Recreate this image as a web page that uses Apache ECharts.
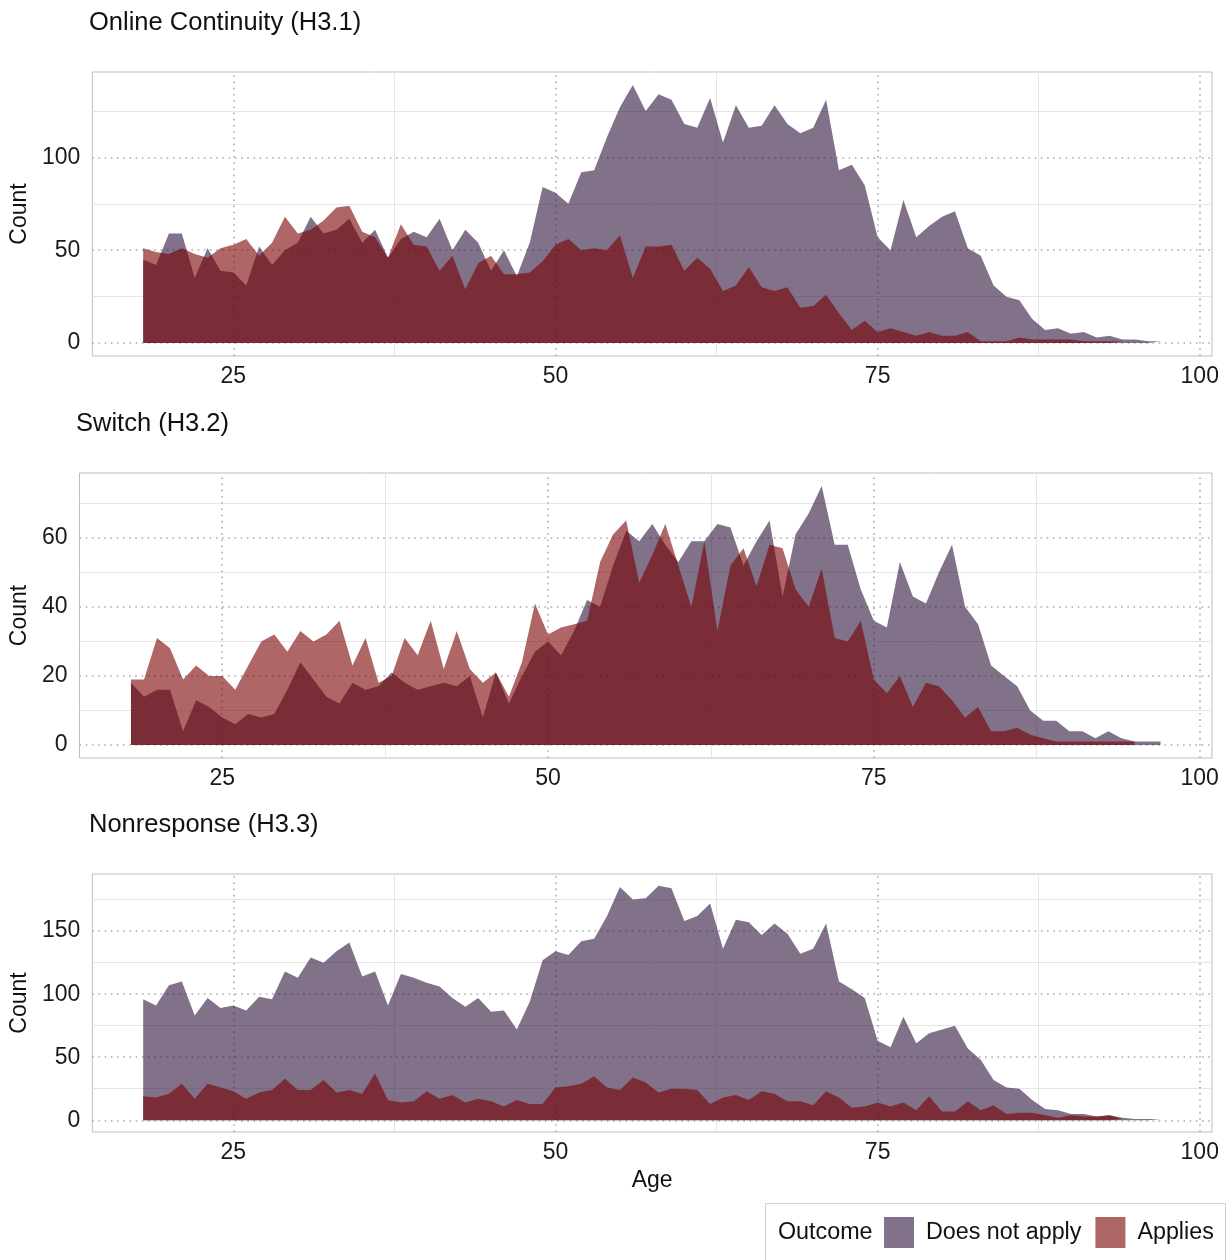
<!DOCTYPE html>
<html><head><meta charset="utf-8">
<script src="https://cdn.jsdelivr.net/npm/echarts@6/dist/echarts.min.js"></script>
<style>html,body{margin:0;padding:0;background:#fff}#chart{width:1229px;height:1260px}</style>
</head><body><div id="chart"></div>
<script>
// ---------- DATA ----------
const AGES = [18,19,20,21,22,23,24,25,26,27,28,29,30,31,32,33,34,35,36,37,38,39,40,41,42,43,44,45,46,47,48,49,50,51,52,53,54,55,56,57,58,59,60,61,62,63,64,65,66,67,68,69,70,71,72,73,74,75,76,77,78,79,80,81,82,83,84,85,86,87,88,89,90,91,92,93,94,95,96,97];
const PANEL_TITLES = ['Online Continuity (H3.1)', 'Switch (H3.2)', 'Nonresponse (H3.3)'];
const SERIES_NAMES = ['Does not apply', 'Applies'];
const LEGEND_TITLE = 'Outcome';
const X_NAME = 'Age';
const Y_NAME = 'Count';

const ONLINE_NOT_APPLY = [45,42,59,59,35,51,39,38,31,52,42,50,54,68,59,61,67,54,61,46,56,60,57,67,50,61,54,39,50,36,54,84,81,75,92,93,111,127,139,125,134,131,118,116,132,108,128,116,117,128,118,113,116,131,93,96,85,57,50,77,57,63,68,71,51,47,31,25,23,13,7,8,5,6,3,4,2,2,1,1];
const ONLINE_APPLIES = [51,49,48,51,48,46,51,53,56,47,54,68,59,61,66,73,74,60,57,46,64,53,52,39,47,29,43,47,37,37,38,44,53,56,50,51,50,58,35,52,52,53,39,46,40,28,31,41,30,28,30,19,20,26,16,7,12,6,8,6,4,6,4,4,6,1,1,1,3,2,2,2,2,1,1,1,1];

const SWITCH_NOT_APPLY = [18,14,16,16,4,13,11,8,6,9,8,9,16,24,19,14,12,18,16,17,21,18,16,17,18,17,20,8,21,12,20,27,30,26,33,42,40,52,62,59,64,58,53,59,59,64,63,52,59,65,43,61,67,75,58,58,45,36,34,53,43,41,50,58,40,35,23,20,17,10,7,7,4,4,2,4,2,1,1,1];
const SWITCH_APPLIES = [19,19,31,28,19,23,20,20,16,23,30,32,27,33,30,32,36,23,31,18,20,31,26,36,22,33,22,18,21,14,24,41,32,34,35,36,53,61,65,47,55,64,52,40,59,33,52,57,46,58,57,45,40,51,31,30,36,19,15,20,11,18,17,13,8,11,4,4,5,3,2,1,1,1,1,1,1,1];

const NONRESP_NOT_APPLY = [96,91,107,110,83,97,89,91,87,98,96,118,113,129,125,134,141,114,118,91,116,113,109,106,97,90,97,86,87,72,94,127,134,131,142,144,162,185,175,176,186,184,158,162,172,136,159,157,147,156,148,132,136,156,110,104,97,63,58,82,61,69,72,75,57,48,32,26,25,16,9,8,5,5,3,4,2,1,1,1];
const NONRESP_APPLIES = [19,18,21,29,17,29,26,23,17,22,24,33,24,24,32,22,24,21,37,16,14,15,23,17,20,14,17,15,11,16,13,13,26,27,29,35,26,24,34,30,22,25,25,24,13,18,20,16,23,21,15,15,12,23,18,10,11,14,11,14,8,19,7,7,15,8,12,5,6,6,4,2,4,3,3,4,1];

const X_TICKS = [25, 50, 75, 100];
const X_MINOR = [37.5, 62.5, 87.5];
const Y_TICKS = [[0, 50, 100], [0, 20, 40, 60], [0, 50, 100, 150]];
const Y_MINOR = [[25, 75, 125], [10, 30, 50, 70], [25, 75, 125, 175]];

// ---------- LAYOUT / STYLE ----------
const FONT = '"Liberation Sans", Arial, Helvetica, sans-serif';
const PANELS = [
  { left: 89, top: 72,  width: 1123, height: 284, titleTop: 10 },
  { left: 76, top: 473, width: 1136, height: 285, titleTop: 411 },
  { left: 89, top: 874, width: 1123, height: 258, titleTop: 812 }
];
const PANEL_DATA = [
  [ONLINE_NOT_APPLY, ONLINE_APPLIES],
  [SWITCH_NOT_APPLY, SWITCH_APPLIES],
  [NONRESP_NOT_APPLY, NONRESP_APPLIES]
];
const AREA_COLORS = ['rgba(45,20,60,0.6)', 'rgba(120,0,0,0.6)'];
const LEGEND_COLORS = ['#81718b', '#ae6664'];

const xMin = Math.min(...AGES), xMax = Math.max(...AGES);
const xPad = (xMax - xMin) * 0.05;

const grids = [], xAxes = [], yAxes = [], series = [], titles = [];

PANELS.forEach((p, i) => {
  const vals = PANEL_DATA[i];
  const yMaxData = Math.max(...vals[0], ...vals[1]);
  const yPad = yMaxData * 0.05;
  grids.push({ left: p.left, top: p.top, width: p.width, height: p.height,
    show: true, borderColor: '#bdbdbd', borderWidth: 1, backgroundColor: '#fff', containLabel: false });
  titles.push({ text: PANEL_TITLES[i], left: p.left, top: p.titleTop, padding: 0,
    textStyle: { fontSize: 25.5, fontWeight: 'normal', color: '#111', fontFamily: FONT } });
  xAxes.push({
    type: 'value', gridIndex: i, min: xMin - xPad, max: xMax + xPad,
    axisLine: { show: false }, axisTick: { show: false }, splitLine: { show: false },
    axisLabel: { customValues: X_TICKS, fontSize: 23, color: '#1a1a1a', fontFamily: FONT, margin: 9 },
    name: i === 2 ? X_NAME : '', nameLocation: 'middle', nameGap: 37,
    nameTextStyle: { fontSize: 23, color: '#111', fontFamily: FONT }
  });
  yAxes.push({
    type: 'value', gridIndex: i, min: -yPad, max: yMaxData + yPad,
    axisLine: { show: false }, axisTick: { show: false }, splitLine: { show: false },
    axisLabel: { customValues: Y_TICKS[i], fontSize: 23, color: '#1a1a1a', fontFamily: FONT, margin: 12 },
    name: Y_NAME, nameLocation: 'middle', nameGap: p.left - 40,
    nameTextStyle: { fontSize: 23, color: '#111', fontFamily: FONT }
  });
  // grid lines (drawn beneath the areas)
  const ml = [];
  Y_MINOR[i].forEach(v => ml.push({ yAxis: v, lineStyle: { color: '#e6e6e6', width: 1, type: 'solid' } }));
  X_MINOR.forEach(v => ml.push({ xAxis: v, lineStyle: { color: '#e6e6e6', width: 1, type: 'solid' } }));
  Y_TICKS[i].forEach(v => ml.push({ yAxis: v, lineStyle: { color: '#ababab', width: 1.6, type: [1.6, 4.6] } }));
  X_TICKS.forEach(v => ml.push({ xAxis: v, lineStyle: { color: '#ababab', width: 1.6, type: [1.6, 4.6] } }));
  series.push({
    type: 'line', xAxisIndex: i, yAxisIndex: i, data: [[AGES[0], 0]], symbol: 'none',
    lineStyle: { opacity: 0 }, silent: true, z: 0, animation: false,
    markLine: { z: 0, silent: true, symbol: ['none', 'none'], animation: false, label: { show: false },
      emphasis: { disabled: true }, data: ml }
  });
  [0, 1].forEach(s => {
    series.push({
      name: SERIES_NAMES[s], type: 'line', xAxisIndex: i, yAxisIndex: i,
      data: vals[s].map((v, k) => [AGES[k], v]),
      symbol: 'none', showSymbol: false, silent: true, animation: false, z: 3 + s,
      lineStyle: { width: 0, opacity: 0 },
      itemStyle: { color: LEGEND_COLORS[s] },
      areaStyle: { color: AREA_COLORS[s], opacity: 1 }
    });
  });
});

const option = {
  backgroundColor: '#fff',
  animation: false,
  title: titles,
  grid: grids,
  xAxis: xAxes,
  yAxis: yAxes,
  series: series,
  legend: {
    left: 884, top: 1217, orient: 'horizontal', icon: 'rect',
    itemWidth: 30, itemHeight: 31, itemGap: 14, padding: 0, selectedMode: false,
    textStyle: { fontSize: 23.3, color: '#111', fontFamily: FONT, padding: [0, 0, 0, 7] },
    data: SERIES_NAMES.map((n, s) => ({ name: n, itemStyle: { color: LEGEND_COLORS[s] } }))
  },
  graphic: [
    { type: 'rect', z: -1, shape: { x: 765.5, y: 1203.5, width: 460, height: 80 },
      style: { fill: '#fff', stroke: '#cfcfcf', lineWidth: 1 } },
    { type: 'text', x: 778, y: 1233, style: { text: LEGEND_TITLE, fontSize: 23.3, fontFamily: FONT,
      fill: '#111', verticalAlign: 'middle', align: 'left' } }
  ]
};

const chart = echarts.init(document.getElementById('chart'), null, { renderer: 'canvas' });
chart.setOption(option);
</script>
</body></html>
